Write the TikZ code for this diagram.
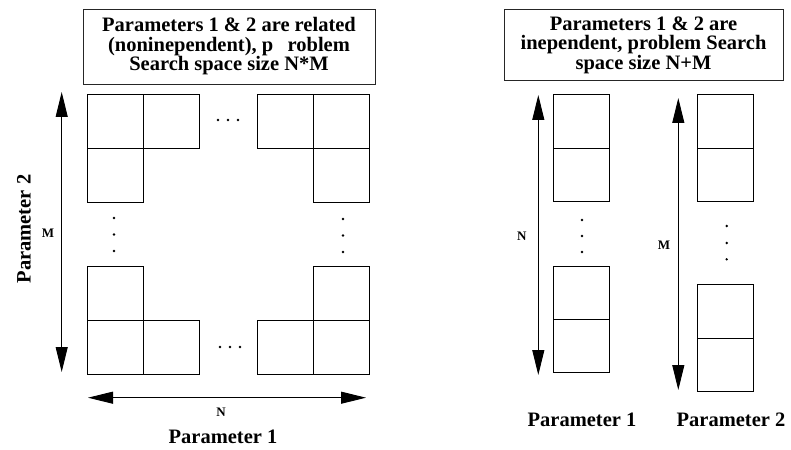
\documentclass[tikz,border=0pt]{standalone}
\usepackage{fontspec}
\setmainfont{Liberation Serif}
\usetikzlibrary{arrows.meta}
\begin{document}
\begin{tikzpicture}[x=1pt,y=-1pt,
  cell/.style={draw=black,line width=0.9pt},
  titlebox/.style={draw=black!85,line width=0.9pt,align=center,inner sep=0pt,
    font=\fontsize{20.5}{19.5}\selectfont\bfseries},
  plabel/.style={font=\fontsize{20.5}{22}\selectfont\bfseries,inner sep=0pt},
  dimlabel/.style={font=\fontsize{13}{15}\selectfont\bfseries,inner sep=0pt},
  dimarrow/.style={line width=0.9pt,{Triangle[length=25pt,width=12pt]}-{Triangle[length=25pt,width=12pt]}},
  dot/.style={fill=black,circle,inner sep=0pt,minimum size=2.6pt}]
\useasboundingbox (0,0) rectangle (791,449);
% ---------- left panel ----------
\node[titlebox,minimum width=292pt,minimum height=75pt] (tl) at (229,46.5)
  {Parameters 1 \& 2 are related\\(noninependent), p\hspace{0.7em}roblem\\Search space size N*M};
% cells
\foreach \x/\y in {87/94,143/94,87/148, 257/94,313/94,313/148,
                   87/266,87/320,143/320, 313/266,257/320,313/320}
  \draw[cell] (\x,\y) rectangle ++(56,54);
% dots
\foreach \x in {218,228,238} \node[dot] at (\x,120) {};
\foreach \x in {220,230,240} \node[dot] at (\x,347) {};
\foreach \y in {218,234.5,251} \node[dot] at (114,\y) {};
\foreach \y in {219,235.5,252} \node[dot] at (343,\y) {};
% arrows
\coordinate (mt) at (61.7,92);
\coordinate (mb) at (61.7,372);
\draw[dimarrow] (mt) -- (mb);
\node[dimlabel] (Ml) at (48,233) {M};
\node[plabel,rotate=90] (p2l) at (24,229) {Parameter 2};
\coordinate (nl) at (88,397.7);
\coordinate (nr) at (366,397.7);
\draw[dimarrow] (nl) -- (nr);
\node[dimlabel] (Nl) at (221,412) {N};
\node[plabel] (p1l) at (223,437) {Parameter 1};
% ---------- right panel ----------
\node[titlebox,minimum width=279pt,minimum height=71pt] (tr) at (643.5,45)
  {Parameters 1 \& 2 are\\inependent, problem Search\\space size N+M};
\draw[cell] (553.3,94.3) rectangle (609,148.3);
\draw[cell] (553.3,148.3) rectangle (609,201.7);
\draw[cell] (553.3,266) rectangle (609,319.3);
\draw[cell] (553.3,319.3) rectangle (609,372.7);
\draw[cell] (697.3,94.3) rectangle (753.3,148.3);
\draw[cell] (697.3,148.3) rectangle (753.3,201.7);
\draw[cell] (697.3,284.7) rectangle (753.3,338.3);
\draw[cell] (697.3,338.3) rectangle (753.3,391.7);
\foreach \y in {220,236,252} \node[dot] at (582,\y) {};
\foreach \y in {226,243,259.3} \node[dot] at (726.7,\y) {};
\coordinate (at) at (538.3,95);
\coordinate (ab) at (538.3,375);
\draw[dimarrow] (at) -- (ab);
\node[dimlabel] (Nr) at (521.7,236) {N};
\coordinate (bt) at (678.3,98);
\coordinate (bb) at (678.3,390);
\draw[dimarrow] (bt) -- (bb);
\node[dimlabel] (Mr) at (664,245) {M};
\node[plabel] (p1r) at (582,420) {Parameter 1};
\node[plabel] (p2r) at (731,420) {Parameter 2};
\end{tikzpicture}
\end{document}
